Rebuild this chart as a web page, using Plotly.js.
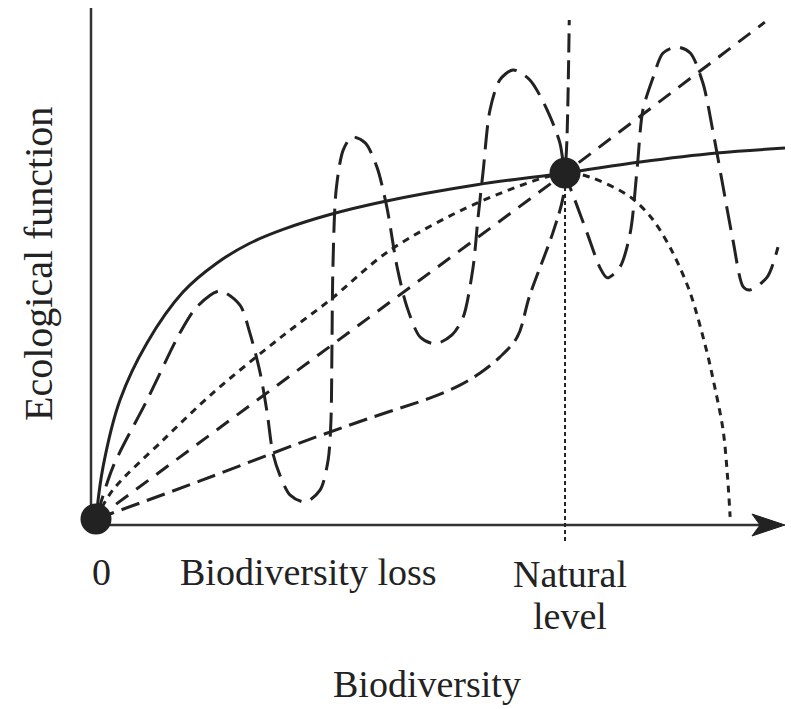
<!DOCTYPE html>
<html>
<head>
<meta charset="utf-8">
<script src="https://cdn.plot.ly/plotly-3.0.1.min.js"></script>
<style>html,body{margin:0;padding:0;background:#fff;}#chart{width:791px;height:709px;}</style>
</head>
<body>
<div id="chart"></div>
<script>
// Biodiversity relative to the natural level (x) and ecological function relative to natural (y)
const solidX = [0, 0.0149, 0.0512, 0.1087, 0.1855, 0.258, 0.328, 0.399, 0.499, 0.612, 0.812, 1.0, 1.160, 1.324, 1.469];
const solidY = [0, 0.150, 0.344, 0.509, 0.656, 0.740, 0.797, 0.837, 0.880, 0.917, 0.966, 1.0, 1.032, 1.058, 1.072];

const waveX = [0, 0.036, 0.109, 0.179, 0.215, 0.264, 0.307, 0.328, 0.350, 0.365, 0.377, 0.392, 0.414, 0.446, 0.478, 0.495, 0.501, 0.503, 0.505, 0.512, 0.527, 0.546, 0.574, 0.599, 0.620, 0.642, 0.663, 0.691, 0.723, 0.759, 0.783, 0.804, 0.814, 0.825, 0.840, 0.861, 0.889, 0.925, 0.962, 0.989, 1.0, 1.021, 1.047, 1.075, 1.090, 1.117, 1.139, 1.154, 1.166, 1.188, 1.209, 1.239, 1.267, 1.294, 1.316, 1.337, 1.358, 1.380, 1.394, 1.431, 1.454];
const waveY = [0, 0.150, 0.344, 0.538, 0.613, 0.659, 0.618, 0.538, 0.422, 0.306, 0.191, 0.127, 0.069, 0.049, 0.084, 0.171, 0.286, 0.488, 0.720, 0.951, 1.066, 1.104, 1.087, 1.017, 0.902, 0.728, 0.613, 0.526, 0.506, 0.532, 0.584, 0.728, 0.864, 1.000, 1.182, 1.269, 1.298, 1.269, 1.182, 1.087, 1.0, 0.922, 0.827, 0.725, 0.697, 0.728, 0.827, 1.017, 1.182, 1.277, 1.347, 1.364, 1.347, 1.260, 1.116, 0.960, 0.806, 0.671, 0.662, 0.699, 0.786];

const humpX = [0, 0.036, 0.143, 0.249, 0.392, 0.499, 0.627, 0.812, 1.0, 1.053, 1.139, 1.188, 1.230, 1.267, 1.303, 1.316, 1.337, 1.347, 1.352];
const humpY = [0, 0.084, 0.228, 0.364, 0.523, 0.633, 0.777, 0.913, 1.0, 0.988, 0.931, 0.864, 0.769, 0.653, 0.480, 0.402, 0.257, 0.113, 0.006];

const linearX = [0, 1.0, 1.426];
const linearY = [0, 1.0, 1.436];

const sigmoidX = [0, 0.2217, 0.435, 0.578, 0.7186, 0.776, 0.819, 0.861, 0.898, 0.925, 0.974, 0.996, 1.0, 1.004, 1.009];
const sigmoidY = [0, 0.110, 0.220, 0.289, 0.353, 0.387, 0.422, 0.468, 0.526, 0.647, 0.827, 0.931, 1.0, 1.095, 1.442];

const pointX = [0, 1];
const pointY = [0, 1];

const naturalLevel = 1;
const guideY = [1, -0.07];

const tickLabels = ['0', 'Biodiversity loss', 'Natural', 'level'];
const tickX = [0.0107, 0.452, 1.011, 1.011];
const xTitle = 'Biodiversity';
const yTitle = 'Ecological function';

const ink = '#222222';
const serif = 'Liberation Serif, Times New Roman, serif';
const fs = 38;

const traces = [
  {x: [naturalLevel, naturalLevel], y: guideY, mode: 'lines', line: {color: ink, width: 2, dash: '4px,3px'}, hoverinfo: 'skip'},
  {x: sigmoidX, y: sigmoidY, mode: 'lines', line: {color: ink, width: 3, dash: '19px,8px', shape: 'spline', smoothing: 1.0}},
  {x: linearX, y: linearY, mode: 'lines', line: {color: ink, width: 3, dash: '15px,10px'}},
  {x: humpX, y: humpY, mode: 'lines', line: {color: ink, width: 3, dash: '7px,6px', shape: 'spline', smoothing: 0.9}},
  {x: waveX, y: waveY, mode: 'lines', line: {color: ink, width: 3, dash: '24px,10px', shape: 'spline', smoothing: 0.8}},
  {x: solidX, y: solidY, mode: 'lines', line: {color: ink, width: 3, shape: 'spline', smoothing: 1.0}},
  {x: pointX, y: pointY, mode: 'markers', marker: {color: ink, size: 31}, cliponaxis: false}
];

const layout = {
  width: 791, height: 709,
  margin: {l: 91, r: 6, t: 8, b: 159},
  paper_bgcolor: '#ffffff', plot_bgcolor: '#ffffff',
  showlegend: false,
  xaxis: {range: [-0.01066, 1.469], showgrid: false, zeroline: false, showticklabels: false, showline: false, ticks: '', fixedrange: true},
  yaxis: {range: [-0.0896, 1.4769], showgrid: false, zeroline: false, showticklabels: false, showline: false, ticks: '', fixedrange: true},
  shapes: [
    {type: 'line', xref: 'paper', yref: 'paper', x0: 0, x1: 0, y0: 0.0461, y1: 1.0, line: {color: '#333333', width: 2.5}, layer: 'below'},
    {type: 'line', xref: 'paper', yref: 'paper', x0: 0, x1: 0.97, y0: 0.0461, y1: 0.0461, line: {color: '#333333', width: 2.5}, layer: 'below'},
    {type: 'path', xref: 'paper', yref: 'paper', path: 'M 1.0 0.0461 L 0.9524 0.0664 L 0.964 0.0461 L 0.9524 0.0258 Z', fillcolor: '#222222', line: {color: '#222222', width: 1}, layer: 'below'}
  ],
  annotations: [
    {text: tickLabels[0], xref: 'x', yref: 'paper', x: tickX[0], y: -0.0406, xanchor: 'center', yanchor: 'middle', showarrow: false, font: {family: serif, size: fs, color: ink}},
    {text: tickLabels[1], xref: 'x', yref: 'paper', x: tickX[1], y: -0.0406, xanchor: 'center', yanchor: 'middle', showarrow: false, font: {family: serif, size: fs, color: ink}},
    {text: tickLabels[2], xref: 'x', yref: 'paper', x: tickX[2], y: -0.0443, xanchor: 'center', yanchor: 'middle', showarrow: false, font: {family: serif, size: fs, color: ink}},
    {text: tickLabels[3], xref: 'x', yref: 'paper', x: tickX[3], y: -0.1218, xanchor: 'center', yanchor: 'middle', showarrow: false, font: {family: serif, size: fs, color: ink}},
    {text: xTitle, xref: 'x', yref: 'paper', x: 0.706, y: -0.2472, xanchor: 'center', yanchor: 'middle', showarrow: false, font: {family: serif, size: fs, color: ink}},
    {text: yTitle, xref: 'paper', yref: 'paper', x: -0.0749, y: 0.5277, xanchor: 'center', yanchor: 'middle', textangle: -90, showarrow: false, font: {family: serif, size: 40, color: ink}}
  ]
};

Plotly.newPlot('chart', traces, layout, {displayModeBar: false, staticPlot: true});
</script>
</body>
</html>
